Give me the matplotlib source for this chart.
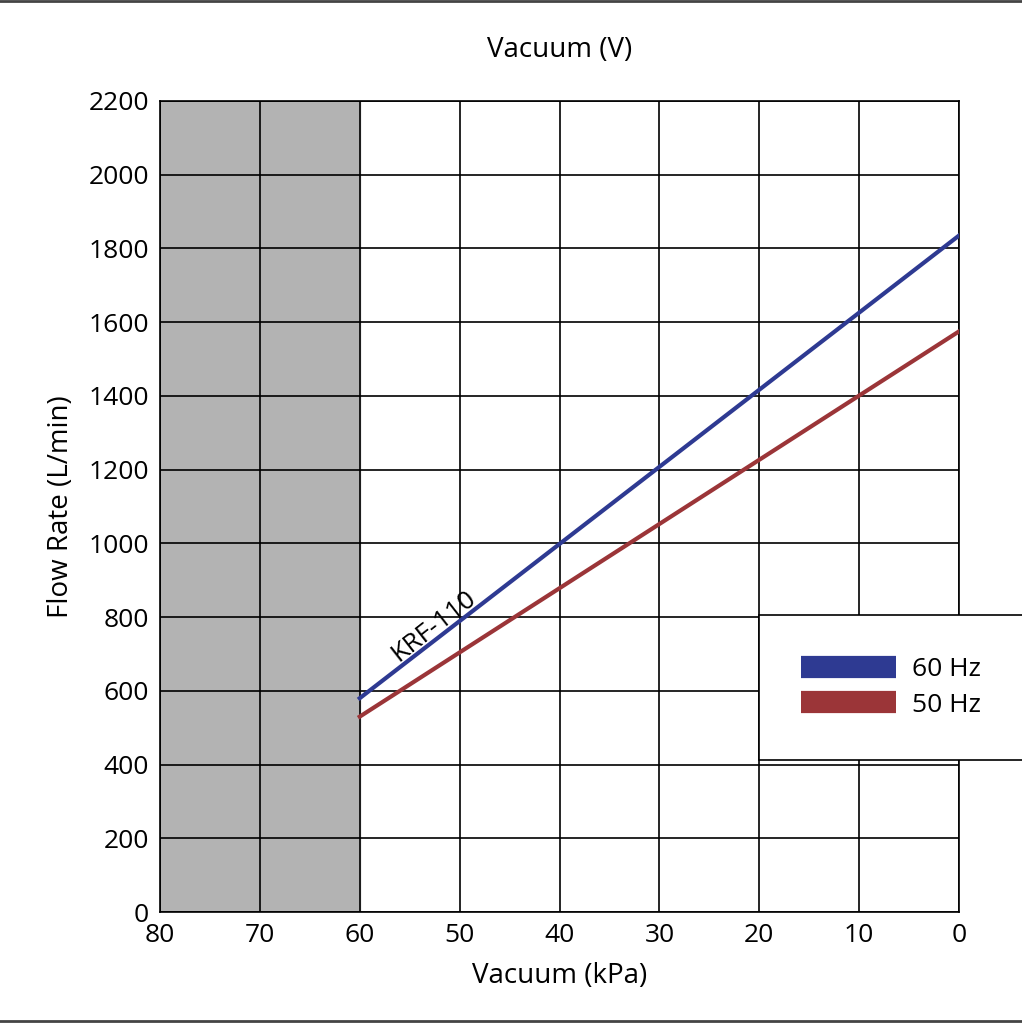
import numpy as np
import matplotlib.pyplot as plt
from matplotlib.lines import Line2D

plt.rcParams['font.family'] = ['Open Sans', 'DejaVu Sans']

vacuum_kpa = [60, 0]
flow_60hz = [580, 1835]
flow_50hz = [530, 1575]
x_ticks = [80, 70, 60, 50, 40, 30, 20, 10, 0]
y_ticks = list(range(0, 2201, 200))

fig = plt.figure(figsize=(10.22, 10.24), dpi=100)
ax = fig.add_axes([160/1022, 1 - 912/1024, 799/1022, 811/1024])

ax.axvspan(60, 80, color='#b3b3b3', zorder=0)
ax.plot(vacuum_kpa, flow_60hz, color='#2e3a92', lw=3, zorder=3)
ax.plot(vacuum_kpa, flow_50hz, color='#9b3538', lw=3, zorder=3)

ax.set_xlim(80, 0)
ax.set_ylim(0, 2200)
ax.set_xticks(x_ticks)
ax.set_yticks(y_ticks)
ax.tick_params(labelsize=19, length=0, pad=8)
ax.grid(True, color='black', lw=1.2)
ax.set_axisbelow(False)
for s in ax.spines.values():
    s.set_linewidth(1.2)
ax.set_xlabel('Vacuum (kPa)', fontsize=20, labelpad=10)
ax.set_ylabel('Flow Rate (L/min)', fontsize=20, labelpad=10)
ax.set_title('Vacuum (V)', fontsize=20, pad=32)

ax.text(55.8, 665, 'KRF-110', fontsize=19, rotation=38, rotation_mode='anchor',
        ha='left', va='bottom')

handles = [Line2D([], [], color='#2e3a92', lw=16, solid_capstyle='butt'),
           Line2D([], [], color='#9b3538', lw=16, solid_capstyle='butt')]
leg = ax.legend(handles, ['60 Hz', '50 Hz'], loc='center left', bbox_to_anchor=(0.75, 0.18, 0.25, 0.194),
                fontsize=19, frameon=True, fancybox=False, framealpha=1, edgecolor='black',
                handlelength=3.6, borderaxespad=0, borderpad=1.6, labelspacing=0.4,
                handletextpad=0.6)
leg.get_frame().set_linewidth(1.2)
leg.set_zorder(5)

fig.add_artist(Line2D([0, 1], [0.999, 0.999], color='#444444', lw=2))
fig.add_artist(Line2D([0, 1], [0.003, 0.003], color='#444444', lw=2))

fig.savefig('out.png', dpi=100)
